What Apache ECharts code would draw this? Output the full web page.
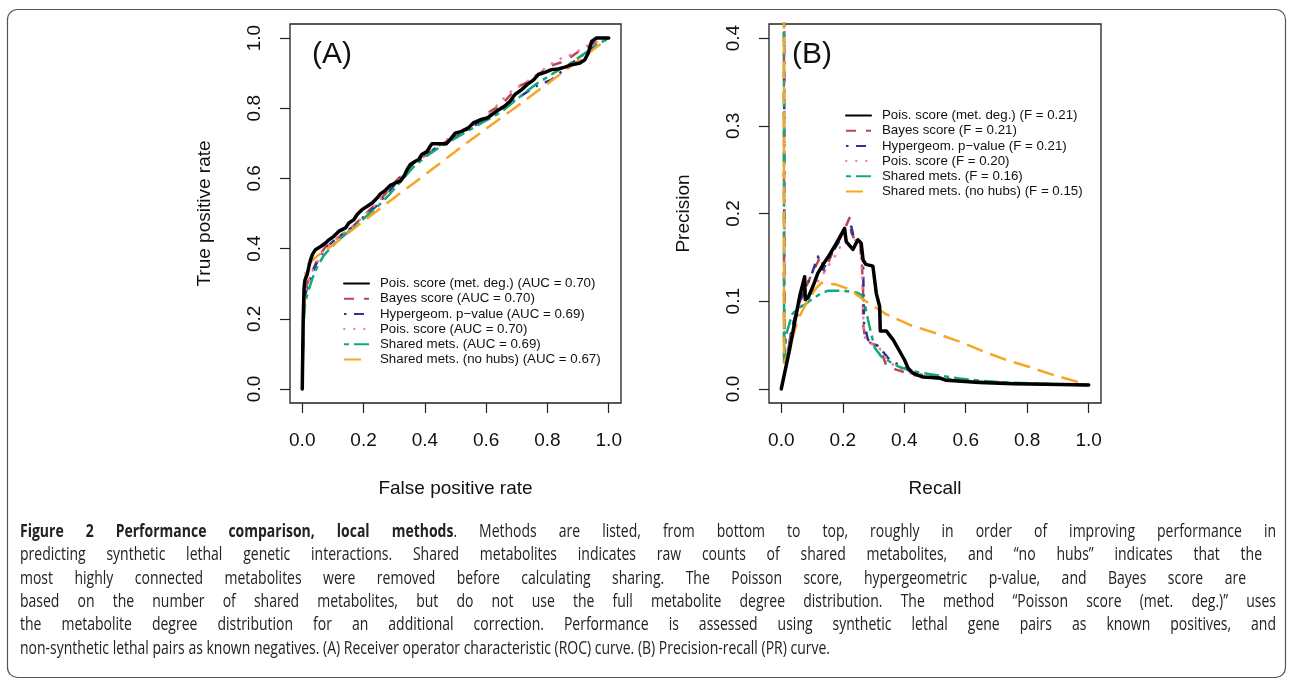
<!DOCTYPE html>
<html>
<head>
<meta charset="utf-8">
<script src="https://cdn.jsdelivr.net/npm/echarts@6/dist/echarts.min.js"></script>
<style>
  html, body { margin: 0; background: #fff; }
  #chart { width: 1289px; height: 679px; }
</style>
</head>
<body>
<div id="chart"></div>
<script>
// ---- data ----
const rocNames = [
  'Pois. score (met. deg.) (AUC = 0.70)',
  'Bayes score (AUC = 0.70)',
  'Hypergeom. p\u2212value (AUC = 0.69)',
  'Pois. score (AUC = 0.70)',
  'Shared mets. (AUC = 0.69)',
  'Shared mets. (no hubs) (AUC = 0.67)'
];
const prNames = [
  'Pois. score (met. deg.) (F = 0.21)',
  'Bayes score (F = 0.21)',
  'Hypergeom. p\u2212value (F = 0.21)',
  'Pois. score (F = 0.20)',
  'Shared mets. (F = 0.16)',
  'Shared mets. (no hubs) (F = 0.15)'
];
const unitTicks = [0, 0.2, 0.4, 0.6, 0.8, 1];
const precTicks = [0, 0.1, 0.2, 0.3, 0.4];

// ROC: [false positive rate, true positive rate]
const rocPoisDeg = [[0,0],[0.003,0.2],[0.006,0.29],[0.009,0.311],[0.016,0.326],[0.022,0.35],[0.027,0.368],[0.033,0.383],[0.043,0.397],[0.06,0.406],[0.076,0.416],[0.087,0.425],[0.103,0.435],[0.119,0.449],[0.141,0.459],[0.152,0.473],[0.168,0.482],[0.179,0.497],[0.195,0.511],[0.211,0.52],[0.228,0.53],[0.244,0.544],[0.255,0.556],[0.271,0.566],[0.287,0.58],[0.304,0.587],[0.32,0.592],[0.331,0.605],[0.342,0.625],[0.352,0.639],[0.369,0.649],[0.38,0.654],[0.39,0.668],[0.407,0.677],[0.423,0.699],[0.47,0.699],[0.48,0.708],[0.499,0.729],[0.52,0.734],[0.542,0.744],[0.558,0.758],[0.581,0.767],[0.603,0.772],[0.619,0.782],[0.641,0.796],[0.662,0.807],[0.678,0.82],[0.694,0.839],[0.716,0.853],[0.733,0.867],[0.755,0.881],[0.77,0.896],[0.792,0.902],[0.813,0.91],[0.835,0.912],[0.857,0.917],[0.879,0.924],[0.906,0.929],[0.922,0.938],[0.933,0.957],[0.944,0.99],[0.96,1],[1,1]];
const rocBayes = [[0,0],[0.004,0.2],[0.008,0.27],[0.016,0.3],[0.03,0.33],[0.045,0.36],[0.06,0.385],[0.076,0.405],[0.1,0.42],[0.13,0.44],[0.168,0.465],[0.195,0.49],[0.22,0.51],[0.25,0.535],[0.28,0.565],[0.309,0.596],[0.34,0.62],[0.36,0.645],[0.4,0.665],[0.44,0.69],[0.48,0.71],[0.52,0.735],[0.56,0.755],[0.6,0.78],[0.613,0.791],[0.65,0.81],[0.705,0.862],[0.75,0.88],[0.803,0.919],[0.857,0.934],[0.911,0.967],[0.954,0.986],[1,1]];
const rocHyper = [[0,0],[0.004,0.2],[0.008,0.26],[0.016,0.29],[0.03,0.325],[0.045,0.355],[0.06,0.38],[0.08,0.405],[0.1,0.42],[0.13,0.44],[0.17,0.465],[0.2,0.49],[0.24,0.52],[0.28,0.56],[0.32,0.6],[0.36,0.64],[0.4,0.665],[0.45,0.695],[0.5,0.72],[0.55,0.745],[0.6,0.77],[0.65,0.8],[0.705,0.83],[0.76,0.862],[0.813,0.881],[0.868,0.92],[0.92,0.955],[0.96,0.98],[1,1]];
const rocPois = [[0,0],[0.004,0.2],[0.008,0.27],[0.016,0.3],[0.03,0.33],[0.05,0.365],[0.07,0.395],[0.1,0.42],[0.13,0.44],[0.17,0.467],[0.2,0.493],[0.24,0.525],[0.28,0.565],[0.32,0.6],[0.36,0.645],[0.4,0.668],[0.45,0.7],[0.5,0.725],[0.55,0.75],[0.6,0.775],[0.673,0.843],[0.74,0.88],[0.808,0.924],[0.857,0.948],[0.89,0.955],[0.911,0.971],[0.95,0.985],[1,1]];
const rocShared = [[0,0],[0.004,0.18],[0.01,0.25],[0.02,0.28],[0.035,0.32],[0.05,0.35],[0.07,0.38],[0.09,0.4],[0.12,0.425],[0.16,0.455],[0.2,0.485],[0.24,0.515],[0.28,0.55],[0.32,0.59],[0.36,0.63],[0.4,0.66],[0.45,0.69],[0.5,0.715],[0.55,0.74],[0.6,0.765],[0.65,0.79],[0.705,0.829],[0.76,0.867],[0.82,0.9],[0.87,0.925],[0.92,0.955],[0.96,0.98],[1,1]];
const rocNoHubs = [[0,0],[0.005,0.2],[0.012,0.35],[0.05,0.38],[0.1,0.41],[0.18,0.465],[0.3,0.545],[0.4,0.61],[0.5,0.677],[0.6,0.742],[0.7,0.805],[0.8,0.87],[0.9,0.935],[1,1]];

// PR: [recall, precision]
const prPoisDeg = [[0,0],[0.027,0.045],[0.043,0.075],[0.06,0.106],[0.076,0.128],[0.078,0.102],[0.087,0.104],[0.103,0.117],[0.119,0.132],[0.136,0.142],[0.157,0.153],[0.179,0.166],[0.206,0.183],[0.211,0.168],[0.233,0.159],[0.249,0.17],[0.26,0.166],[0.266,0.147],[0.275,0.142],[0.298,0.14],[0.309,0.109],[0.32,0.094],[0.322,0.066],[0.342,0.066],[0.364,0.056],[0.385,0.043],[0.401,0.033],[0.412,0.024],[0.428,0.018],[0.461,0.0136],[0.515,0.0125],[0.537,0.0098],[0.645,0.0075],[0.754,0.006],[0.862,0.0053],[1,0.0045]];
const prBayes = [[0.008,1],[0.009,0.025],[0.016,0.03],[0.033,0.068],[0.054,0.094],[0.076,0.113],[0.098,0.13],[0.119,0.145],[0.128,0.152],[0.141,0.134],[0.168,0.157],[0.195,0.174],[0.222,0.195],[0.228,0.178],[0.239,0.17],[0.255,0.168],[0.262,0.144],[0.266,0.113],[0.266,0.075],[0.273,0.056],[0.293,0.052],[0.315,0.049],[0.331,0.037],[0.342,0.026],[0.374,0.022],[0.428,0.016],[0.494,0.0125],[0.6,0.009],[0.754,0.0065],[0.88,0.0052],[1,0.0045]];
const prHyper = [[0.009,1],[0.01,0.03],[0.018,0.035],[0.035,0.07],[0.056,0.096],[0.078,0.114],[0.098,0.13],[0.119,0.151],[0.135,0.136],[0.165,0.155],[0.195,0.172],[0.228,0.185],[0.236,0.172],[0.255,0.167],[0.266,0.147],[0.269,0.075],[0.282,0.056],[0.304,0.052],[0.325,0.045],[0.353,0.033],[0.38,0.028],[0.43,0.018],[0.5,0.013],[0.6,0.0095],[0.754,0.0066],[0.88,0.0052],[1,0.0045]];
const prPois = [[0.01,1],[0.011,0.03],[0.02,0.04],[0.04,0.07],[0.065,0.095],[0.087,0.106],[0.108,0.117],[0.13,0.128],[0.152,0.14],[0.174,0.151],[0.195,0.164],[0.222,0.172],[0.239,0.17],[0.255,0.166],[0.262,0.137],[0.269,0.06],[0.287,0.052],[0.315,0.049],[0.336,0.037],[0.369,0.026],[0.42,0.018],[0.5,0.013],[0.6,0.0095],[0.754,0.0066],[0.88,0.0052],[1,0.0045]];
const prShared = [[0.008,1],[0.009,0.03],[0.016,0.062],[0.035,0.085],[0.054,0.092],[0.076,0.096],[0.098,0.102],[0.125,0.108],[0.152,0.112],[0.2,0.112],[0.244,0.11],[0.262,0.107],[0.271,0.098],[0.282,0.079],[0.293,0.062],[0.304,0.047],[0.325,0.037],[0.358,0.03],[0.385,0.025],[0.43,0.02],[0.5,0.016],[0.58,0.012],[0.645,0.0095],[0.754,0.007],[0.88,0.0055],[1,0.0045]];
const prNoHubs = [[0.008,1],[0.009,0.03],[0.022,0.041],[0.038,0.06],[0.054,0.079],[0.07,0.09],[0.087,0.102],[0.114,0.115],[0.13,0.121],[0.179,0.119],[0.211,0.115],[0.239,0.109],[0.266,0.102],[0.293,0.096],[0.342,0.085],[0.418,0.073],[0.498,0.064],[0.58,0.054],[0.656,0.043],[0.732,0.033],[0.808,0.025],[0.884,0.016],[1,0.0045]];

// caption, one entry per printed line (the first line starts with the bold run)
const capBold = 'Figure 2 Performance comparison, local methods';
const capLines = [
  '. Methods are listed, from bottom to top, roughly in order of improving performance in',
  'predicting synthetic lethal genetic interactions. Shared metabolites indicates raw counts of shared metabolites, and \u201cno hubs\u201d indicates that the',
  'most highly connected metabolites were removed before calculating sharing. The Poisson score, hypergeometric p-value, and Bayes score are',
  'based on the number of shared metabolites, but do not use the full metabolite degree distribution. The method \u201cPoisson score (met. deg.)\u201d uses',
  'the metabolite degree distribution for an additional correction. Performance is assessed using synthetic lethal gene pairs as known positives, and',
  'non-synthetic lethal pairs as known negatives. (A) Receiver operator characteristic (ROC) curve. (B) Precision-recall (PR) curve.'
];

// ---- styles ----
const lineColors = ['#000000', '#b8474f', '#2c3595', '#ef7c9e', '#12a97a', '#f5a623'];
const lineWidths = [3.5, 2.5, 2.5, 2.5, 2.5, 2.5];
const lineDash = ['solid', [10, 10], [2.5, 7.5, 10, 7.5], [0.5, 9.5], [5, 5, 15, 5], [17, 8]];
const lineCaps = ['round', 'butt', 'butt', 'round', 'butt', 'butt'];

const fontMain = 'Liberation Sans, Arial, sans-serif';
const txt = '#111';

function makeSeries(names, sets, axis) {
  return sets.map((d, i) => ({
    name: names[i],
    type: 'line',
    xAxisIndex: axis, yAxisIndex: axis,
    data: d,
    symbol: 'none',
    z: i === 0 ? 10 : 3,
    lineStyle: { color: lineColors[i], width: lineWidths[i], type: lineDash[i], cap: lineCaps[i], join: 'round' },
    itemStyle: { color: lineColors[i] }
  }));
}

function xAxisCfg(idx, name) {
  return {
    gridIndex: idx, type: 'value', min: -0.04, max: 1.04,
    name: name, nameLocation: 'middle', nameGap: 76,
    nameTextStyle: { fontSize: 19, fontFamily: fontMain, color: txt },
    axisLine: { show: false, onZero: false },
    splitLine: { show: false },
    axisTick: { show: true, length: 10, customValues: unitTicks, lineStyle: { color: '#222', width: 1.2 } },
    axisLabel: { customValues: unitTicks, margin: 28, fontSize: 19, fontFamily: fontMain, color: txt,
      formatter: v => v.toFixed(1) }
  };
}

function yAxisCfg(idx, name, lo, hi, ticks) {
  return {
    gridIndex: idx, type: 'value', min: lo, max: hi,
    name: name, nameLocation: 'middle', nameGap: 76,
    nameTextStyle: { fontSize: 19, fontFamily: fontMain, color: txt },
    axisLine: { show: false, onZero: false },
    splitLine: { show: false },
    axisTick: { show: true, length: 10, customValues: ticks, lineStyle: { color: '#222', width: 1.2 } },
    axisLabel: { customValues: ticks, rotate: 90, margin: 26, fontSize: 19, fontFamily: fontMain, color: txt,
      formatter: v => v.toFixed(1) }
  };
}

function legendCfg(names, left, top) {
  return {
    data: names, orient: 'vertical', left: left, top: top,
    itemWidth: 25, itemHeight: 10, itemGap: 0.2, padding: 0,
    selectedMode: false,
    itemStyle: { opacity: 0 },
    textStyle: { fontSize: 13.3, fontFamily: fontMain, color: txt, lineHeight: 15, padding: [0, 0, 0, 6] }
  };
}

// caption: narrow type, justified lines get wider word gaps, the last line is set loose
const capFont = '18px "Open Sans"';
const capRight = [1276, 1262, 1246, 1276, 1276, 830];
const measure = document.createElement('canvas').getContext('2d');
function widthOf(s, bold) {
  measure.font = (bold ? 'bold ' : '') + capFont;
  return measure.measureText(s).width;
}
function capWords(i) {
  if (i > 0) return capLines[i].split(' ').map(w => ({ str: w, w: widthOf(w, false) }));
  const rest = capLines[0].split(' ');
  const out = capBold.split(' ').map(w => ({ str: '{b|' + w + '}', w: widthOf(w, true) }));
  out[out.length - 1].str += rest[0];
  out[out.length - 1].w += widthOf(rest[0], false);
  return out.concat(rest.slice(1).map(w => ({ str: w, w: widthOf(w, false) })));
}
const squeeze = (capRight[5] - 20) / widthOf(capLines[5], false);
const captionText = capLines.map((s, i) => {
  const ws = capWords(i);
  const sum = ws.reduce((a, o) => a + o.w, 0);
  const gap = i < 5 ? ((capRight[i] - 20) / squeeze - sum) / (ws.length - 1) : widthOf(' ', false);
  return {
    type: 'text', x: 20, y: 532 + i * 23.3, silent: true, scaleX: squeeze,
    style: {
      text: ws.map(o => o.str).join('{sp| }'),
      font: capFont, fill: '#222', verticalAlign: 'middle',
      rich: { b: { font: 'bold ' + capFont, fill: '#222' }, sp: { font: capFont, width: gap } }
    }
  };
});

const chart = echarts.init(document.getElementById('chart'));
chart.setOption({
  animation: false,
  backgroundColor: '#fff',
  grid: [
    { left: 290, top: 24, width: 331, height: 379, show: true, borderColor: '#222', borderWidth: 1.3 },
    { left: 769, top: 24, width: 332, height: 379, show: true, borderColor: '#222', borderWidth: 1.3 }
  ],
  xAxis: [xAxisCfg(0, 'False positive rate'), xAxisCfg(1, 'Recall')],
  yAxis: [yAxisCfg(0, 'True positive rate', -0.04, 1.04, unitTicks), yAxisCfg(1, 'Precision', -0.016, 0.416, precTicks)],
  legend: [legendCfg(rocNames, 343, 276), legendCfg(prNames, 845, 108)],
  series: makeSeries(rocNames, [rocPoisDeg, rocBayes, rocHyper, rocPois, rocShared, rocNoHubs], 0)
    .concat(makeSeries(prNames, [prPoisDeg, prBayes, prHyper, prPois, prShared, prNoHubs], 1)),
  graphic: [
    { type: 'rect', left: 5, top: 7, silent: true,
      shape: { width: 1278, height: 668, r: 10 },
      style: { fill: 'none', stroke: '#555', lineWidth: 1.2 } },
    { type: 'text', left: 312, top: 40, style: { text: '(A)', font: '30px Liberation Sans', fill: '#111' } },
    { type: 'text', left: 792, top: 40, style: { text: '(B)', font: '30px Liberation Sans', fill: '#111' } }
  ].concat(captionText)
});
</script>
</body>
</html>
